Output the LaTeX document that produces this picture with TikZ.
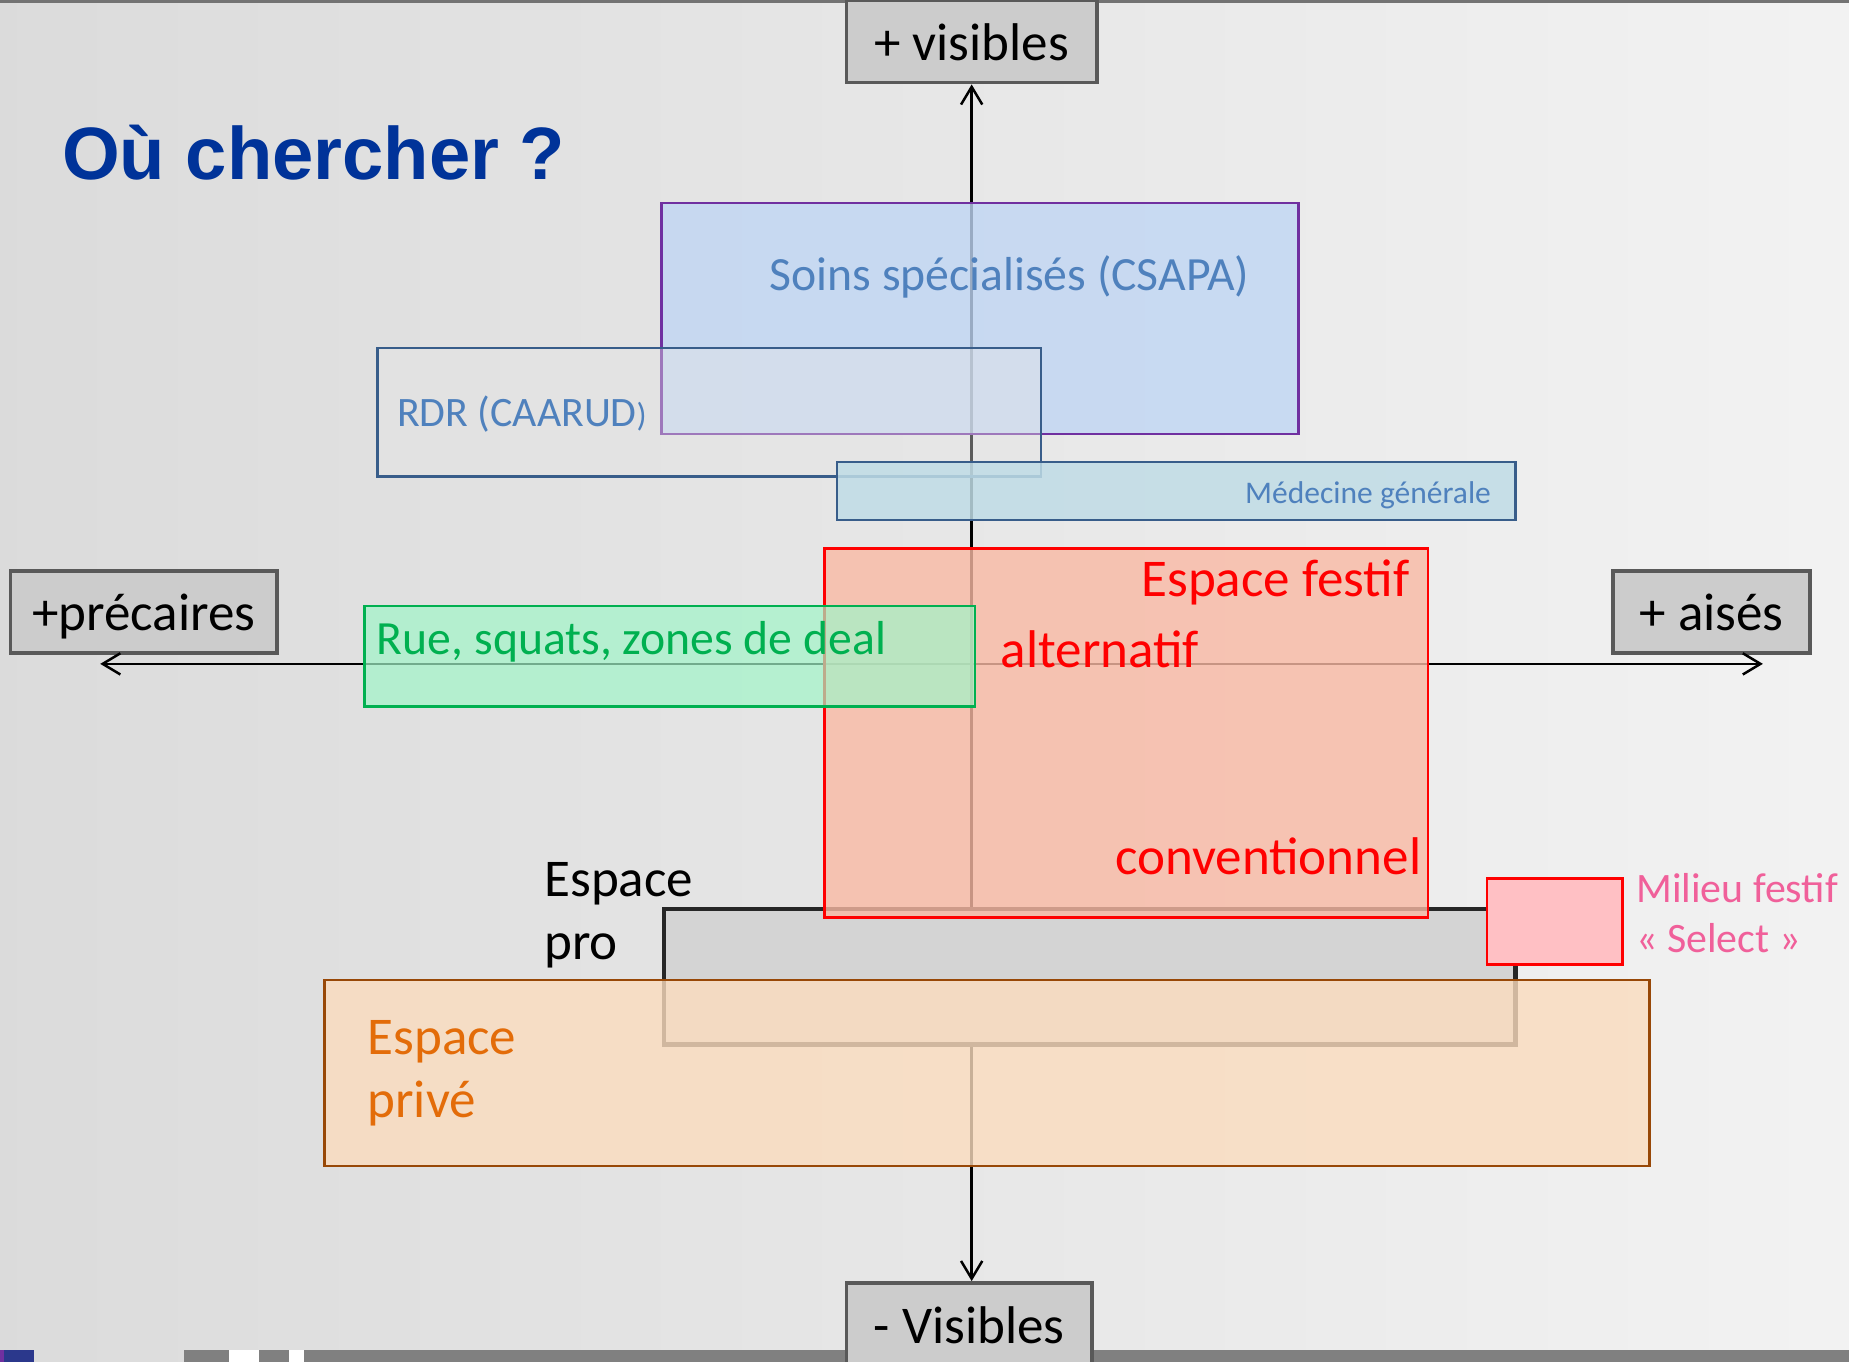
\documentclass[tikz,border=0pt]{standalone}
\usepackage{fontspec}
\setmainfont{Carlito}
\newfontfamily\titlefont{Liberation Sans}
\usepackage{tikz}
\usetikzlibrary{arrows.meta}
\definecolor{titre}{HTML}{003399}
\definecolor{bleutxt}{HTML}{4F81BD}
\definecolor{bleutrait}{HTML}{385D8A}
\definecolor{violet}{HTML}{7030A0}
\definecolor{soinsfond}{HTML}{C0D6F4}
\definecolor{medfond}{HTML}{C0DCE6}
\definecolor{festfond}{HTML}{F9B9A4}
\definecolor{vert}{HTML}{00B050}
\definecolor{vertfond}{HTML}{A1F5C8}
\definecolor{privefond}{HTML}{FBDCBE}
\definecolor{brun}{HTML}{984807}
\definecolor{orangetxt}{HTML}{E36C09}
\definecolor{rose}{HTML}{F0609A}
\definecolor{rosefond}{HTML}{FFC0C4}
\definecolor{logobleu}{HTML}{2B388C}
\def\taille#1{\fontsize{#1}{#1}\selectfont}

\begin{document}
\begin{tikzpicture}[x=0.01cm,y=-0.01cm,
	axe/.style={line width=0.6pt,-{Straight Barb[length=1.5mm,width=1.8mm]}},
	pole/.style={draw=black!65,fill=black!20,line width=0.9pt,inner sep=0pt,minimum height=0.70cm,
		text height=11.6pt,text depth=2.5pt,font=\taille{12.8}},
	zone/.style={line width=0.6pt,fill opacity=0.8},
	txt/.style={inner sep=0pt,anchor=base west}]
	%FOND
	\useasboundingbox (0,0) rectangle (1568,1155);
	\shade[left color=black!14,right color=black!5] (0,0) rectangle (1568,1155);
	\fill[black!55] (0,0) rectangle (1568,2.5);
	\fill[black!50] (156,1145) rectangle (1568,1155);
	\fill[white] (194,1145) rectangle (220,1155);
	\fill[white] (245,1145) rectangle (258,1155);
	\fill[logobleu] (3,1145) rectangle (29,1155);
	\fill[violet] (0,1145) rectangle (3,1155);
	
	%POLES
	\node[pole,minimum width=2.12cm] (vplus) at (824,35) {+ visibles};
	\node[pole,minimum width=2.08cm] (vmoins) at (822,1123) {- Visibles};
	\node[pole,minimum width=2.26cm] (precaires) at (122,519) {+précaires};
	\node[pole,minimum width=1.67cm] (aises) at (1451.5,519) {+ aisés};
	\coordinate (O) at (824,563);
	\coordinate (W) at (85,563);
	\coordinate (E) at (1495,563);
	
	%AXES
	\draw[axe] (O) -- (O |- vplus.south);
	\draw[axe] (O) -- (O |- vmoins.north);
	\draw[axe] (O) -- (W);
	\draw[axe] (O) -- (E);
	
	%ZONES
	\draw[zone,draw=violet,fill=soinsfond] (561,172) rectangle (1101,368);
	\draw[zone,draw=bleutrait,fill=black!10,fill opacity=0.4] (320,295) rectangle (883,404);
	\draw[zone,draw=bleutrait,fill=medfond,fill opacity=0.85] (710,392) rectangle (1285,441);
	\draw[line width=1.1pt,draw=black!85,fill=black!17] (563,771) rectangle (1285,886);
	\draw[zone,draw=red,fill=festfond] (699,465) rectangle (1211,778);
	\draw[zone,draw=vert,fill=vertfond,fill opacity=0.7] (309,514) rectangle (827,599);
	\draw[zone,draw=brun,fill=privefond] (275,831) rectangle (1399,989);
	\draw[zone,draw=red,fill=rosefond,fill opacity=1] (1261,745) rectangle (1376,818);
	
	%LABELS
	\node[txt,font=\titlefont\bfseries\taille{17.9},text=titre] (titre) at (52,152.6) {Où chercher ?};
	\node[txt,font=\taille{11.5},text=bleutxt] (soins) at (652,246) {Soins spécialisés (CSAPA)};
	\node[txt,font=\taille{10.1},text=bleutxt] (rdr) at (336,361.6) {RDR (CAARUD{\taille{8})}};
	\node[txt,anchor=base east,font=\taille{7.6},text=bleutxt] (medecine) at (1265,427) {Médecine générale};
	\node[txt,anchor=base east,font=\taille{12.8},text=red] (festif) at (1196,506) {Espace festif};
	\node[txt,font=\taille{12.8},text=red] (alternatif) at (848,566) {alternatif};
	\node[txt,anchor=base east,font=\taille{12.8},text=red] (conventionnel) at (1206,741.6) {conventionnel};
	\node[txt,font=\taille{11.5},text=vert] (rue) at (319,554.7) {Rue, squats, zones de deal};
	\node[txt,font=\taille{12.8}] (pro1) at (461,760) {Espace};
	\node[txt,font=\taille{12.8}] (pro2) at (461,814) {pro};
	\node[txt,font=\taille{12.8},text=orangetxt] (prive1) at (311,894) {Espace};
	\node[txt,font=\taille{12.8},text=orangetxt] (prive2) at (311,948) {privé};
	\node[txt,font=\taille{10.1},text=rose] (select1) at (1387,765.6) {Milieu festif};
	\node[txt,font=\taille{10.1},text=rose] (select2) at (1387,808) {« Select »};
\end{tikzpicture}
\end{document}
